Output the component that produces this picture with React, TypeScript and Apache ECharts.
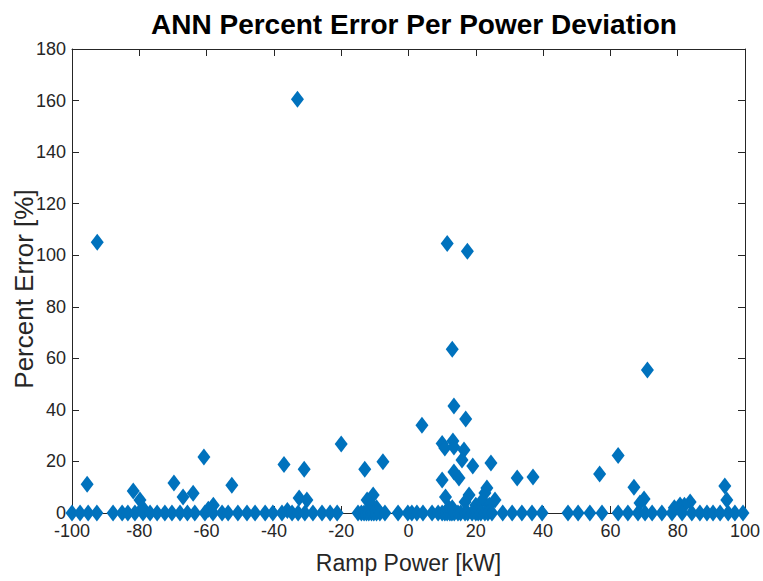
import React, { useEffect, useRef } from "react";
import * as echarts from "echarts";

// Ramp power [kW] and percent error [%] for each test case
const rampPower: number[] = [
  // non-zero errors
  -92.5, -33, 11.5, 17.5, 13, 71, 13.5, 17, 4, 10, 10.8, 13.2, 13.5, 16.5, 15.9, 19.1, 24.5,
  13.5, 15, 10, 32.3, 37, 23.3, 22.7, 11, 18, 22, 16.8, -20, -60.8, 62.3, -37, -7.6, -31, -13,
  56.8, -95.5, -69.7, -81.8, -79.8, -67, -64, -52.5, -32.5, -30.2, -10.5, -12.3, 67, 70, 68.8,
  94, 94.6, 80.7, 83.7, 25.7, 12, -11, -9.5, -58, -59.5, -36, -79, 13, 20, 24, 79, 82,
  // zero errors
  -100, -97.6, -95.2, -92.6, -87.8, -85.1, -83.4, -81.3, -78.9, -76.8, -74.7, -72.4, -70.3,
  -67.9, -65.7, -63.5, -60.5, -58.1, -55.4, -53.6, -50.7, -48, -45.6, -42.6, -40.3, -37.6, -34.6,
  -32.8, -30.8, -28.4, -25.7, -23.3, -21.2, -15, -14, -13.2, -12.5, -11.8, -11, -10.3, -9.5,
  -8.5, -7, -3.1, -0.2, 1, 2.5, 4.3, 7, 8.8, 10, 10.8, 11.5, 12.3, 12.9, 13.6, 14.7, 15.5, 16.8,
  17.6, 18.9, 20, 20.7, 21.5, 22.7, 23.6, 24.8, 28, 30.8, 33.7, 36.7, 39.7, 47.4, 50.4, 53.9,
  57.5, 62.3, 65.2, 68.2, 70.3, 72.4, 75.3, 78.3, 81.3, 84.2, 86.6, 88.7, 90.5, 92.6, 95, 97,
  99.4,
];

const percentError: number[] = [
  105, 160.5, 104.5, 101.5, 63.5, 55.5, 41.5, 36.5, 34, 27, 25.2, 27.9, 25.6, 24.4, 20.6, 18.2,
  19.4, 15.9, 13.6, 12.8, 13.6, 14, 9.7, 7.8, 6.2, 7, 5, 4.3, 26.8, 21.7, 22.3, 18.8, 19.9, 17,
  17, 15.1, 11.2, 11.6, 8.5, 5, 6.2, 7.7, 10.8, 5.8, 5, 7, 5, 10, 5.4, 3.9, 10.5, 5, 3.1, 4.3, 5,
  2, 3, 2, 3, 1.5, 1, 2, 2, 3, 3, 2, 3,
  0, 0, 0, 0, 0, 0, 0, 0, 0, 0, 0, 0, 0, 0, 0, 0, 0, 0, 0, 0, 0, 0, 0, 0, 0, 0, 0, 0, 0, 0, 0, 0,
  0, 0, 0, 0, 0, 0, 0, 0, 0, 0, 0, 0, 0, 0, 0, 0, 0, 0, 0, 0, 0, 0, 0, 0, 0, 0, 0, 0, 0, 0, 0, 0,
  0, 0, 0, 0, 0, 0, 0, 0, 0, 0, 0, 0, 0, 0, 0, 0, 0, 0, 0, 0, 0, 0, 0, 0, 0, 0, 0, 0,
];

const xTicks = { min: -100, max: 100, interval: 20 };
const yTicks = { min: 0, max: 180, interval: 20 };

const titleText = "ANN Percent Error Per Power Deviation";
const xName = "Ramp Power [kW]";
const yName = "Percent Error [%]";

export default function App() {
  const ref = useRef<HTMLDivElement>(null);
  useEffect(() => {
    if (!ref.current) return;
    const chart = echarts.init(ref.current, undefined, { renderer: "svg" });
    const n = Math.min(rampPower.length, percentError.length);
    const data: number[][] = [];
    for (let i = 0; i < n; i++) data.push([rampPower[i], percentError[i]]);
    const axisColor = "#262626";
    const font = "'Liberation Sans', Arial, Helvetica, sans-serif";
    const lineStyle = { color: axisColor, width: 1 };
    chart.setOption({
      animation: false,
      backgroundColor: "#ffffff",
      title: {
        text: titleText,
        left: 409,
        top: 5,
        textAlign: "center",
        textStyle: { fontFamily: font, fontSize: 28, fontWeight: "bold", color: "#000000" },
      },
      grid: {
        left: 72,
        right: 18,
        top: 49,
        bottom: 68,
        containLabel: false,
        outerBoundsMode: "none",
      },
      xAxis: [
        {
          type: "value",
          position: "bottom",
          ...xTicks,
          name: xName,
          nameLocation: "middle",
          nameGap: 38,
          nameMoveOverlap: false,
          nameTextStyle: { fontFamily: font, fontSize: 23, color: axisColor },
          axisLine: { show: true, onZero: false, lineStyle },
          axisTick: { show: true, inside: true, length: 7, lineStyle },
          axisLabel: { fontFamily: font, fontSize: 18, color: axisColor, margin: 9 },
          splitLine: { show: false },
        },
        {
          type: "value",
          position: "top",
          ...xTicks,
          axisLine: { show: true, onZero: false, lineStyle },
          axisTick: { show: true, inside: true, length: 7, lineStyle },
          axisLabel: { show: false },
          splitLine: { show: false },
        },
      ],
      yAxis: [
        {
          type: "value",
          position: "left",
          ...yTicks,
          name: yName,
          nameLocation: "middle",
          nameGap: 35,
          nameMoveOverlap: false,
          nameTextStyle: { fontFamily: font, fontSize: 26, color: axisColor, padding: [0, 16, 0, 0] },
          axisLine: { show: true, onZero: false, lineStyle },
          axisTick: { show: true, inside: true, length: 7, lineStyle },
          axisLabel: { fontFamily: font, fontSize: 18, color: axisColor, margin: 6 },
          splitLine: { show: false },
        },
        {
          type: "value",
          position: "right",
          ...yTicks,
          axisLine: { show: true, onZero: false, lineStyle },
          axisTick: { show: true, inside: true, length: 7, lineStyle },
          axisLabel: { show: false },
          splitLine: { show: false },
        },
      ],
      series: [
        {
          type: "scatter",
          data,
          symbol: "diamond",
          symbolSize: [13, 17],
          clip: false,
          itemStyle: { color: "#0072BD", opacity: 1 },
          z: 3,
        },
      ],
    });
    return () => chart.dispose();
  }, []);
  return <div ref={ref} style={{ width: 763, height: 581, position: "absolute", left: 0, top: 0 }} />;
}
